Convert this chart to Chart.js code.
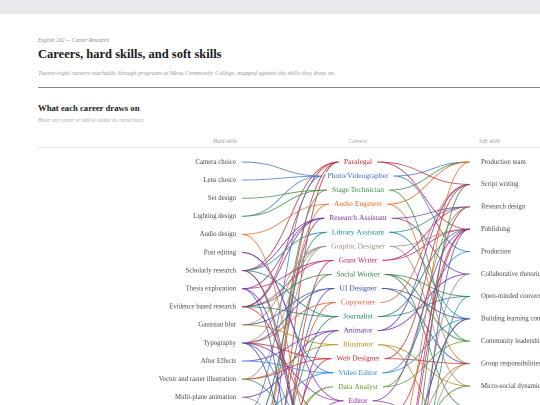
<!DOCTYPE html>
<html><head><meta charset="utf-8">
<script src="https://cdn.jsdelivr.net/npm/chart.js@4"></script>
<style>
html,body{margin:0;padding:0;width:540px;height:405px;overflow:hidden;background:#fff;font-family:"Liberation Serif","DejaVu Serif",serif}
#bar{position:absolute;left:0;top:0;width:540px;height:14px;background:#e9e9ed}
.t{position:absolute;white-space:nowrap}
#wrap{position:absolute;left:0;top:148px;width:540px;height:700px}
</style></head><body>
<div id="bar"></div>
<div class="t" style="left:38px;top:37px;font-size:5.5px;font-style:italic;color:#888">English 102 — Career Research</div>
<div class="t" style="left:38px;top:47px;font-size:12.5px;font-weight:bold;color:#1a1a1a">Careers, hard skills, and soft skills</div>
<div class="t" style="left:38px;top:69px;font-size:6.2px;font-style:italic;color:#999">Twenty-eight careers reachable through programs at Mesa Community College, mapped against the skills they draw on.</div>
<div style="position:absolute;left:38px;top:87px;width:502px;height:1px;background:#888"></div>
<div class="t" style="left:38px;top:103px;font-size:8.7px;font-weight:bold;color:#1a1a1a">What each career draws on</div>
<div class="t" style="left:38px;top:117px;font-size:5.2px;font-style:italic;color:#aaa">Hover any career or skill to isolate its connections.</div>
<div class="t" style="left:213px;top:138px;font-size:5.5px;font-style:italic;color:#999">Hard skills</div>
<div class="t" style="left:349px;top:138px;font-size:5.5px;font-style:italic;color:#999">Careers</div>
<div class="t" style="left:479px;top:138px;font-size:5.5px;font-style:italic;color:#999">Soft skills</div>
<div style="position:absolute;left:38px;top:147px;width:502px;height:1px;background:#e6e6e6"></div>
<div id="wrap"><canvas id="c" width="540" height="700"></canvas></div>
<script>
const hardSkills=["Camera choice","Lens choice","Set design","Lighting design","Audio design","Post editing","Scholarly research","Thesis exploration","Evidence based research","Gaussian blur","Typography","After Effects","Vector and raster illustration","Multi-plane animation","Color grading","Citation formats","Layout","Sound mixing","Data visualization","Statistics","Interviewing","Proofreading","Legal writing","Web development","Storyboarding","Grant proposals"];
const careers=["Paralegal","Photo/Videographer","Stage Technician","Audio Engineer","Research Assistant","Library Assistant","Graphic Designer","Grant Writer","Social Worker","UI Designer","Copywriter","Journalist","Animator","Illustrator","Web Designer","Video Editor","Data Analyst","Editor","Technical Writer","Marketing Coordinator","Museum Technician","Sound Mixer","Teacher's Aide","Public Relations Specialist","Game Designer","Archivist","Court Reporter","Content Strategist"];
const careerColors=["#c0283a","#3a6fc8","#3a8a3a","#e06a20","#7030a0","#1a9090","#a08a7a","#c0206a","#2e7d32","#3848a8","#e05a30","#1a8070","#6a2ab0","#b8860b","#c62828","#1e88e5","#5a9a2a","#8e24aa","#c0283a","#3a6fc8","#3a8a3a","#e06a20","#7030a0","#1a9090","#a08a7a","#c0206a","#2e7d32","#3848a8"];
const softSkills=["Production team","Script writing","Research design","Publishing","Production","Collaborative rhetoric","Open-minded conversation","Building learning communities","Community leadership","Group responsibilities","Micro-social dynamics","Empathy","Public speaking","Peer review","Negotiation"];
const careerHard=[[8,6,22,15],[0,1,3,14],[2,3,17],[4,17],[6,7,8,19],[6,15],[10,9,12,16],[8,25,7],[20,8],[9,10,23],[10,21],[6,8,20],[11,13,24],[12,9],[10,12,23],[5,11,14],[19,18],[10,21,5],[21,16,8],[10,18],[6,12],[17,4],[7,20],[20,21],[24,13,23],[15,6],[22,21],[16,10,7]];
const careerSoft=[[1,3],[0,4],[0,8],[0,9],[2,5],[7,2],[3,10],[3,2],[8,6,11],[9,7],[1],[3,6],[1,5],[10,13],[9,1],[4,7],[2,8],[3,13],[3,13],[12,14],[7,10],[0,9],[7,11],[12,6],[9,5],[2,3],[1,14],[3,12]];

const X={hard:242,career:358,soft:470};
const H=700, TOP=14;
const nodes={
 id:'nodes',
 afterDatasetsDraw(ch){
  const ctx=ch.ctx, xs=ch.scales.x;
  const yh=ch.scales.yh, yc=ch.scales.yc, ys=ch.scales.ys;
  ctx.save();
  ctx.font='7.6px "Liberation Serif",serif';
  const cw=careers.map(c=>ctx.measureText(c).width);
  ctx.lineWidth=0.9;
  careers.forEach((c,i)=>{
   const cy=yc.getPixelForValue(i), cx=xs.getPixelForValue(X.career);
   ctx.strokeStyle=careerColors[i]; ctx.globalAlpha=0.8;
   careerHard[i].forEach(h=>{
    const x0=xs.getPixelForValue(X.hard), y0=yh.getPixelForValue(h), x1=cx-cw[i]/2-5;
    const m=(x0+x1)/2;
    ctx.beginPath();ctx.moveTo(x0,y0);ctx.bezierCurveTo(m,y0,m,cy,x1,cy);ctx.stroke();
   });
   careerSoft[i].forEach(s=>{
    const x0=cx+cw[i]/2+5, x1=xs.getPixelForValue(X.soft), y1=ys.getPixelForValue(s);
    const m=(x0+x1)/2;
    ctx.beginPath();ctx.moveTo(x0,cy);ctx.bezierCurveTo(m,cy,m,y1,x1,y1);ctx.stroke();
   });
  });
  ctx.globalAlpha=1;
  ctx.textBaseline='middle';
  careers.forEach((c,i)=>{
   const y=yc.getPixelForValue(i);
   ctx.fillStyle='#fff';ctx.fillRect(xs.getPixelForValue(X.career)-cw[i]/2-2,y-4,cw[i]+4,8);
   ctx.fillStyle=careerColors[i];ctx.textAlign='center';ctx.fillText(c,xs.getPixelForValue(X.career),y);
  });
  ctx.font='6.8px "Liberation Serif",serif';ctx.fillStyle='#444';
  ctx.textAlign='right';
  hardSkills.forEach((h,i)=>ctx.fillText(h,xs.getPixelForValue(X.hard)-6,yh.getPixelForValue(i)));
  ctx.textAlign='left';
  softSkills.forEach((s,i)=>ctx.fillText(s,xs.getPixelForValue(X.soft)+11,ys.getPixelForValue(i)));
  ctx.restore();
 }
};
new Chart(document.getElementById('c'),{
 type:'scatter',
 data:{datasets:[
  {data:hardSkills.map((h,i)=>({x:X.hard,y:i})),yAxisID:'yh',pointRadius:0},
  {data:careers.map((c,i)=>({x:X.career,y:i})),yAxisID:'yc',pointRadius:0},
  {data:softSkills.map((s,i)=>({x:X.soft,y:i})),yAxisID:'ys',pointRadius:0}]},
 options:{responsive:false,animation:false,devicePixelRatio:2,
  layout:{padding:0},
  plugins:{legend:{display:false},tooltip:{enabled:false}},
  events:[],
  scales:{
   x:{type:'linear',min:0,max:540,display:false},
   yh:{type:'linear',reverse:true,min:-TOP/18.1,max:(H-TOP)/18.1,display:false},
   yc:{type:'linear',reverse:true,min:-TOP/14.05,max:(H-TOP)/14.05,display:false},
   ys:{type:'linear',reverse:true,min:-TOP/22.4,max:(H-TOP)/22.4,display:false}
  }},
 plugins:[nodes]
});
</script>
</body></html>
